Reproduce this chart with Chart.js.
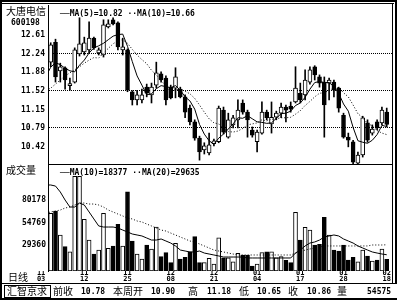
<!DOCTYPE html>
<html>
<head>
<meta charset="utf-8">
<script src="https://cdn.jsdelivr.net/npm/chart.js@4.4.1/dist/chart.umd.min.js"></script>
<style>
  body { margin: 0; background: #fff; }
  #wrap { position: relative; width: 400px; height: 300px; overflow: hidden; background: #fff; color: #000; }
  canvas { position: absolute; left: 0; }
  .ln { position: absolute; background: #000; }
  .t { position: absolute; white-space: pre; line-height: 8px; font: bold 8px "DejaVu Sans Mono", monospace; }
  .c { position: absolute; white-space: pre; line-height: 10px; font: 10px "Noto Sans CJK SC", sans-serif; }
</style>
</head>
<body>
<div id="wrap">
  <canvas id="priceChart" width="400" height="166" style="top:0"></canvas>
  <canvas id="volChart" width="400" height="119" style="top:165px"></canvas>

  <!-- frame -->
  <div class="ln" style="left:0;top:0;width:397px;height:2px"></div>
  <div class="ln" style="left:0;top:3px;width:394px;height:1px"></div>
  <div class="ln" style="left:0;top:0;width:2px;height:300px"></div>
  <div class="ln" style="left:392px;top:3px;width:1px;height:281px"></div>
  <div class="ln" style="left:395px;top:0;width:2px;height:284px"></div>
  <div class="ln" style="left:48px;top:164px;width:345px;height:1px"></div>
  <div class="ln" style="left:0;top:283px;width:397px;height:1px"></div>
  <div class="ln" style="left:0;top:298px;width:397px;height:2px"></div>
  <div style="position:absolute;left:4px;top:285px;width:45px;height:11px;border:1px solid #000"></div>

  <div class="c" style="left:6px;top:3px">大唐电信</div>
  <div class="t" style="left:11px;top:18px">600198</div>
  <div class="t" style="left:60px;top:9px">──MA(5)=10.82 ··MA(10)=10.66</div>
  <div class="c" style="left:6px;top:162px">成交量</div>
  <div class="t" style="left:60px;top:168px">──MA(10)=18377 ··MA(20)=29635</div>
  <div class="c" style="left:8px;top:269px">日线</div>

  <div class="c" style="left:7px;top:283px">汇智京求</div>
  <div class="c" style="left:53px;top:283px">前收</div>
  <div class="t" style="left:81px;top:287px">10.78</div>
  <div class="c" style="left:113px;top:283px">本周开</div>
  <div class="t" style="left:151px;top:287px">10.90</div>
  <div class="c" style="left:188px;top:283px">高</div>
  <div class="t" style="left:207px;top:287px">11.18</div>
  <div class="c" style="left:239px;top:283px">低</div>
  <div class="t" style="left:257px;top:287px">10.65</div>
  <div class="c" style="left:288px;top:283px">收</div>
  <div class="t" style="left:307px;top:287px">10.86</div>
  <div class="c" style="left:337px;top:283px">量</div>
  <div class="t" style="left:367px;top:287px">54575</div>
</div>

<script>
// daily candles, oldest first
const priceOpen = [12.08, 12.47, 11.91, 11.97, 11.62, 11.69, 12.24, 12.28, 12.32, 12.55,
  12.26, 12.22, 12.77, 12.91, 12.85, 12.32, 12.32, 11.50, 11.34, 11.34,
  11.59, 11.44, 11.63, 11.85, 11.77, 11.59, 11.57, 11.55, 11.40, 11.18,
  10.91, 10.59, 10.36, 10.30, 10.48, 10.52, 11.14, 10.61, 10.85, 10.95,
  11.28, 11.10, 10.75, 10.52, 10.69, 11.10, 10.87, 11.00, 11.08, 11.20,
  11.22, 11.30, 11.47, 11.44, 11.69, 11.99, 11.79, 11.69, 11.67, 11.69,
  11.57, 11.04, 10.61, 10.52, 10.10, 10.26, 10.89, 10.69, 10.91, 10.89,
  11.10];
const priceHigh = [12.46, 12.53, 12.06, 11.99, 11.77, 12.36, 12.95, 12.57, 12.87, 12.57,
  12.36, 12.91, 12.91, 12.95, 12.87, 12.55, 12.34, 11.52, 11.53, 11.55,
  11.65, 11.67, 12.08, 11.89, 11.81, 11.63, 11.97, 11.59, 11.44, 11.24,
  10.95, 10.63, 10.50, 10.69, 10.57, 11.22, 11.20, 11.08, 11.04, 11.34,
  11.34, 11.14, 10.81, 10.75, 11.30, 11.14, 11.30, 11.12, 11.28, 11.24,
  11.30, 11.99, 11.67, 11.93, 11.99, 12.01, 11.83, 11.79, 11.77, 11.73,
  11.59, 11.08, 10.69, 10.55, 10.32, 11.02, 10.95, 10.85, 10.95, 11.20,
  11.18];
const priceLow = [11.99, 11.69, 11.69, 11.55, 11.53, 11.67, 12.20, 12.22, 12.26, 12.33,
  12.22, 12.18, 12.75, 12.81, 12.32, 12.22, 11.50, 11.24, 11.24, 11.28,
  11.40, 11.28, 11.57, 11.69, 11.24, 11.36, 11.38, 11.38, 10.99, 10.85,
  10.55, 10.16, 10.28, 10.26, 10.44, 10.50, 10.67, 10.59, 10.79, 10.79,
  11.06, 10.61, 10.61, 10.32, 10.67, 10.95, 10.69, 10.95, 10.99, 10.91,
  11.10, 11.28, 11.28, 11.34, 11.65, 11.73, 11.59, 10.61, 11.34, 11.40,
  11.10, 10.59, 10.42, 10.06, 10.06, 10.22, 10.51, 10.65, 10.75, 10.85,
  10.81];
const priceClose = [12.42, 11.79, 11.99, 11.73, 11.63, 12.32, 12.44, 12.46, 12.55, 12.36,
  12.32, 12.81, 12.83, 12.83, 12.38, 12.38, 11.53, 11.34, 11.44, 11.44,
  11.47, 11.59, 11.87, 11.73, 11.34, 11.38, 11.79, 11.40, 11.10, 10.91,
  10.59, 10.32, 10.44, 10.46, 10.54, 11.18, 10.71, 10.95, 10.99, 11.14,
  11.10, 10.95, 10.65, 10.71, 11.10, 10.99, 11.00, 11.08, 11.20, 11.14,
  11.16, 11.57, 11.34, 11.73, 11.93, 11.83, 11.67, 11.24, 11.73, 11.53,
  11.18, 10.61, 10.55, 10.12, 10.26, 10.99, 10.55, 10.77, 10.79, 11.14,
  10.86];
const volume = [65200, 67800, 40700, 27500, 21800, 107000, 107000, 58400, 35000, 19200,
  23700, 65200, 25600, 28300, 52800, 28300, 89600, 33900, 19200, 13600,
  29400, 24900, 49700, 16200, 20700, 9400, 31300, 13600, 15500, 21800,
  38800, 9400, 9400, 14400, 7900, 37600, 15000, 15000, 10500, 20000,
  18100, 18100, 5650, 7900, 20700, 21800, 21800, 15000, 16200, 12000,
  9400, 66300, 35000, 49400, 46300, 29400, 30200, 60700, 40700, 23700,
  22600, 29400, 12400, 15500, 10500, 23700, 16900, 11300, 12400, 24900,
  13200];

// moving averages as drawn, starting one day before the first visible candle
const maStart = -1;
const ma5 = [11.80, 11.98, 12.07, 12.03, 11.96, 11.91, 11.89, 12.02, 12.12, 12.26,
  12.36, 12.40, 12.45, 12.52, 12.59, 12.62, 12.63, 12.39, 12.09, 11.81,
  11.63, 11.44, 11.46, 11.56, 11.62, 11.60, 11.58, 11.62, 11.53, 11.40,
  11.32, 11.16, 10.86, 10.67, 10.54, 10.47, 10.59, 10.67, 10.77, 10.87,
  10.99, 10.98, 11.03, 10.97, 10.91, 10.90, 10.88, 10.89, 10.98, 11.07,
  11.08, 11.12, 11.23, 11.28, 11.39, 11.55, 11.68, 11.70, 11.68, 11.68,
  11.60, 11.47, 11.26, 11.12, 10.80, 10.54, 10.51, 10.49, 10.55, 10.66,
  10.84, 10.82];
const ma10 = [11.53, 11.57, 11.65, 11.73, 11.81, 11.87, 11.93, 11.99, 12.06, 12.12,
  12.17, 12.16, 12.26, 12.35, 12.44, 12.50, 12.52, 12.45, 12.33, 12.22,
  12.13, 12.05, 11.92, 11.83, 11.72, 11.61, 11.51, 11.54, 11.55, 11.51,
  11.46, 11.37, 11.24, 11.10, 10.97, 10.89, 10.87, 10.77, 10.72, 10.71,
  10.73, 10.78, 10.85, 10.87, 10.89, 10.95, 10.93, 10.96, 10.97, 10.99,
  10.99, 11.00, 11.06, 11.13, 11.23, 11.31, 11.40, 11.47, 11.48, 11.53,
  11.57, 11.58, 11.48, 11.40, 11.24, 11.07, 10.99, 10.88, 10.83, 10.74,
  10.69, 10.66];
const volMa10 = [97200, 97200, 96000, 89300, 80200, 72300, 72300, 76800, 74600, 66700,
  58800, 50900, 49700, 49700, 49700, 48600, 46300, 44100, 41800, 40700,
  39600, 37300, 35000, 35000, 36200, 33900, 31600, 28300, 23700, 22600,
  21500, 21500, 22600, 20300, 19200, 18100, 17000, 15800, 15800, 15800,
  15800, 15800, 14700, 14700, 14700, 14700, 14700, 14700, 14700, 14700,
  14700, 14700, 20300, 23700, 28300, 31600, 32800, 35000, 38400, 39600,
  40700, 39600, 36200, 33900, 31600, 28300, 26000, 23700, 21500, 20300,
  19200, 18377];
const volMa20 = [65500, 66700, 67800, 68900, 71200, 72300, 74600, 76800, 76800, 75700,
  75700, 74600, 72300, 68900, 66700, 64400, 62200, 59900, 58800, 56500,
  55400, 53100, 50900, 48600, 46300, 45200, 42900, 40700, 38400, 36200,
  33900, 32800, 30500, 28300, 26000, 23700, 22600, 21500, 20300, 19200,
  18100, 18100, 18100, 18100, 18100, 18100, 18100, 18100, 18100, 18100,
  18100, 18100, 20300, 21500, 23700, 24900, 26000, 27100, 28300, 28300,
  28300, 28300, 28300, 28300, 28300, 28300, 28300, 28300, 29400, 29400,
  29400, 29635];

const priceTicks = [12.61, 12.24, 11.88, 11.52, 11.15, 10.79, 10.42];
const priceGridTicks = [12.24, 11.52, 10.79];
const volTicks = [29360, 54769, 80178];
const dateTickIdx = [-2, 7, 16, 25, 34, 43, 52, 61, 70];
const dateTickLabels = [['11', '03'], ['11', '12'], ['11', '25'], ['12', '08'], ['12', '21'],
  ['01', '04'], ['01', '17'], ['01', '28'], ['02', '18']];

const X_MIN = -0.5625, X_MAX = 71.1;
const tickFont = { family: 'DejaVu Sans Mono', size: 8, weight: 'bold' };

const days = priceOpen.map((_, i) => i);
const isUp = days.map(i => priceClose[i] >= priceOpen[i]);
const upFill = days.map(i => isUp[i] ? '#fff' : '#000');
const maPoints = arr => arr.map((v, k) => ({ x: k + maStart, y: v }));

function fixedY(width) {
  return function(scale) {
    scale.width = width;
    scale.paddingTop = 0;
    scale.paddingBottom = 0;
  };
}

const common = {
  responsive: false,
  animation: false,
  events: [],
  plugins: { legend: { display: false }, tooltip: { enabled: false } }
};

// price panel
new Chart(document.getElementById('priceChart'), {
  type: 'bar',
  data: {
    datasets: [
      {
        type: 'line', data: maPoints(ma5), borderColor: '#000', borderWidth: 1,
        pointRadius: 0, tension: 0, order: 0
      },
      {
        type: 'line', data: maPoints(ma10), borderColor: '#000', borderWidth: 1,
        borderDash: [1, 2], pointRadius: 0, tension: 0, order: 0
      },
      {
        data: days.map(i => ({ x: i, y: [priceOpen[i], priceClose[i]] })),
        backgroundColor: upFill, borderColor: '#000', borderWidth: 1, borderSkipped: false,
        barThickness: 4, minBarLength: 2, grouped: false, order: 1
      },
      {
        data: days.map(i => ({ x: i, y: [priceLow[i], priceHigh[i]] })),
        backgroundColor: '#000', borderWidth: 0, barThickness: 1, grouped: false, order: 2
      }
    ]
  },
  options: Object.assign({}, common, {
    layout: { padding: { top: 5, bottom: 2, left: 0, right: 8 } },
    scales: {
      x: { type: 'linear', min: X_MIN, max: X_MAX, offset: false, display: false },
      y: {
        min: 10.084, max: 13.20,
        afterBuildTicks: s => { s.ticks = priceTicks.map(v => ({ value: v })); },
        afterFit: fixedY(48),
        ticks: { autoSkip: false, padding: 3, color: '#000', font: tickFont,
          callback: v => v.toFixed(2) },
        grid: {
          drawTicks: false, lineWidth: 1, borderDash: [1, 1],
          color: c => (c.tick && priceGridTicks.includes(c.tick.value)) ? '#000' : 'rgba(0,0,0,0)'
        },
        border: { display: true, color: '#000', width: 1, dash: [1, 1] }
      }
    }
  })
});

// volume panel
new Chart(document.getElementById('volChart'), {
  type: 'bar',
  data: {
    datasets: [
      {
        type: 'line', data: maPoints(volMa10), borderColor: '#000', borderWidth: 1,
        pointRadius: 0, tension: 0, order: 0
      },
      {
        type: 'line', data: maPoints(volMa20), borderColor: '#000', borderWidth: 1,
        borderDash: [1, 2], pointRadius: 0, tension: 0, order: 0
      },
      {
        data: days.map(i => ({ x: i, y: volume[i] })),
        backgroundColor: upFill, borderColor: '#000', borderWidth: 1, borderSkipped: false,
        barThickness: 4, grouped: false, order: 1
      }
    ]
  },
  options: Object.assign({}, common, {
    layout: { padding: { top: 0, bottom: 0, left: 0, right: 8 } },
    scales: {
      x: {
        type: 'linear', min: X_MIN, max: X_MAX, offset: false,
        afterBuildTicks: s => { s.ticks = dateTickIdx.map(v => ({ value: v })); },
        afterFit: s => { s.height = 13; s.paddingLeft = 0; s.paddingRight = 0; },
        ticks: {
          autoSkip: false, maxRotation: 0, padding: -1, color: '#000',
          font: { family: 'DejaVu Sans Mono', size: 7, weight: 'bold', lineHeight: 0.9 },
          callback: v => dateTickLabels[dateTickIdx.indexOf(v)]
        },
        grid: { display: false, drawTicks: false },
        border: { display: false }
      },
      y: {
        min: 0, max: 119800,
        afterBuildTicks: s => { s.ticks = volTicks.map(v => ({ value: v })); },
        afterFit: fixedY(48),
        ticks: { autoSkip: false, padding: 2, color: '#000', font: tickFont,
          callback: v => String(v) },
        grid: { display: false, drawTicks: false },
        border: { display: true, color: '#000', width: 1 }
      }
    }
  })
});
</script>
</body>
</html>
